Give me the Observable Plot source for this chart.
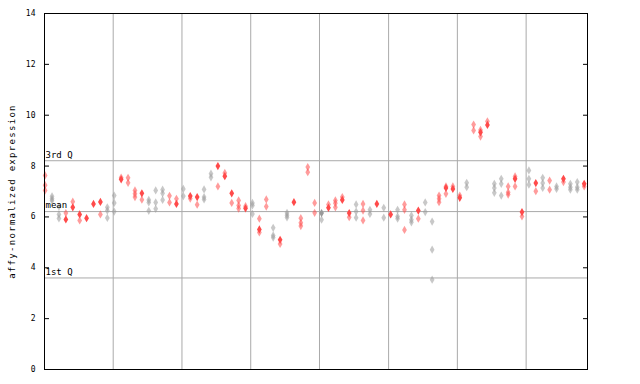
<!DOCTYPE html>
<html>
<head>
<meta charset="utf-8">
<script src="https://cdn.jsdelivr.net/npm/d3@7"></script>
<script src="https://cdn.jsdelivr.net/npm/@observablehq/plot@0.6"></script>
<style>
  html, body { margin: 0; padding: 0; background: #fff; }
  #chart svg { display: block; }
</style>
</head>
<body>
<div id="chart"></div>
<script>
// Per-sample expression values (hatched markers)
const sampleValues = [
  [7.63,7.25,7.04],[6.81,6.71,6.64],[6.41,6.10,5.94],[6.15],[6.60],[5.86],[],[],[6.10],[6.38,6.25,5.96],
  [6.84,6.55,6.21],[7.55],[7.54,7.34],[7.04,6.91,6.78],[6.68],[6.67,6.57,6.24],[7.04,6.57,6.32],[7.07,6.93,6.67],[6.83,6.57],[6.71],
  [7.10,6.82],[6.72],[6.48],[7.08,6.78,6.69],[7.70,7.56],[7.20],[7.73],[6.55],[6.65,6.45,6.33],[6.42],
  [6.55,6.45,6.12],[5.93,5.39],[6.69,6.41],[5.57,5.27,5.19],[4.94],[6.16,6.07,5.98],[],[5.95,5.77,5.64],[7.96,7.76],[6.55,6.16],
  [5.89],[6.49],[6.65,6.54,6.38],[6.78],[5.99],[6.49,6.21,5.97],[6.51,6.25,5.86],[6.28,6.12],[],[6.36,5.97],
  [],[6.28,6.02,5.93],[6.49,6.28,5.49],[6.06,5.89,5.79],[5.93],[6.57,6.19],[5.82,4.71,3.53],[6.84,6.71,6.58],[7.20,6.91],[7.20],
  [6.84],[7.34,7.17],[9.63,9.40],[9.42,9.16],[9.76],[7.30,7.14,6.95],[7.50,7.30,6.84],[7.20,6.97,6.88],[7.59,7.20],[6.02],
  [7.83,7.50,7.27],[7.01],[7.54,7.33,7.14],[7.43,7.07],[7.20,7.10],[7.37],[7.30,7.17,7.07],[7.37,7.17,7.07],[7.20]
];
// Per-sample solid marker value (null = none)
const filledValues = [
  null,null,null,5.90,6.38,6.10,5.95,6.51,6.59,null,
  null,7.48,null,null,6.93,null,null,null,null,6.51,
  null,6.82,6.78,null,null,8.00,7.60,6.93,null,6.34,
  null,5.51,null,null,5.10,null,6.58,null,null,null,
  6.15,6.36,null,6.67,6.15,null,null,null,6.51,null,
  6.10,null,null,null,6.25,null,null,null,7.14,7.10,
  6.75,null,null,9.33,9.62,null,null,null,7.50,6.19,
  null,7.33,null,null,null,7.50,null,null,7.30
];
// Series colour per sample: r = red, g = grey
const sampleSeries = (
  "rggrrrrrrg" + "grrrrgggrr" + "grrggrrrrr" + "grrgrgrrrr" +
  "grrrrgrgrg" + "rgrgrggrrr" + "rgrrrggrrr" + "grgrgrggr"
).split("");
// Group boundaries (vertical grid lines), in sample-index units
const groupBounds = [9.85, 19.8, 29.75, 39.7, 49.7, 59.65, 69.6];
// Reference lines
const refNames = ["3rd Q", "mean", "1st Q"];
const refValues = [8.21, 6.21, 3.60];
const yTicks = [0, 2, 4, 6, 8, 10, 12, 14];

const seriesColor = {r: "#ff4a4a", g: "#9a9a9a"};

const points = [];
sampleValues.forEach((vals, i) => {
  vals.forEach(v => points.push({i, v, s: sampleSeries[i], solid: false}));
  if (filledValues[i] != null) points.push({i, v: filledValues[i], s: sampleSeries[i], solid: true});
});
const refs = refNames.map((n, k) => ({n, v: refValues[k]}));

const chart = Plot.plot({
  width: 640,
  height: 384,
  marginLeft: 44,
  marginRight: 53,
  marginTop: 13,
  marginBottom: 15,
  x: {domain: [-0.09, 78.48], axis: null},
  y: {domain: [0, 14], ticks: yTicks, label: null},
  style: {fontFamily: "'DejaVu Sans Mono', monospace", fontSize: "8px", background: "#fff", color: "#000"},
  marks: [
    Plot.ruleX(groupBounds, {stroke: "#aaaaaa", strokeWidth: 1}),
    Plot.ruleY(refs, {y: "v", stroke: "#aaaaaa", strokeWidth: 1}),
    Plot.dot(points.filter(d => !d.solid), {x: "i", y: "v", symbol: "diamond", r: 2.5,
      fill: d => seriesColor[d.s], fillOpacity: 0.55, stroke: null}),
    Plot.dot(points.filter(d => d.solid), {x: "i", y: "v", symbol: "diamond", r: 2.5,
      fill: d => seriesColor[d.s], stroke: null}),
    Plot.text(refs, {y: "v", text: "n", frameAnchor: "left", textAnchor: "start", dx: 1, dy: -6,
      fontSize: 9, fill: "#000", style: "letter-spacing:1.3px"}),
    Plot.axisY({anchor: "left", ticks: yTicks, tickSize: -5, tickPadding: 14, label: null, fontSize: 8, stroke: "#000", fill: "#000"}),
    Plot.axisY({anchor: "right", ticks: yTicks, tickSize: -5, tickFormat: () => "", label: null, stroke: "#000"}),
    Plot.frame({stroke: "#000", strokeWidth: 1}),
    Plot.text(["affy-normalized expression"], {frameAnchor: "left", textAnchor: "middle", rotate: -90, dx: -32,
      fontSize: 9, fill: "#000"})
  ]
});
chart.querySelectorAll("text").forEach(t => {
  if (t.textContent === "affy-normalized expression") t.style.letterSpacing = "1.3px";
});
document.getElementById("chart").appendChild(chart);
</script>
</body>
</html>
